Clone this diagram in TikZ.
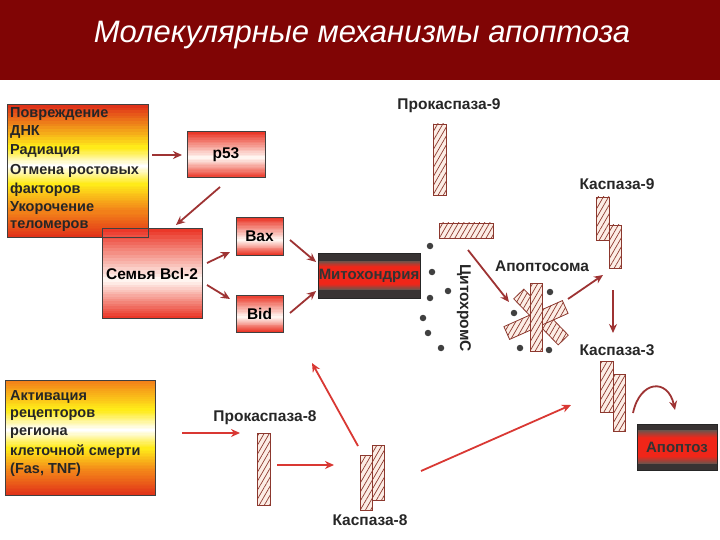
\documentclass[tikz,border=0pt]{standalone}
\usepackage{fontspec}
\setmainfont{Liberation Sans}
\usetikzlibrary{arrows.meta,patterns.meta}
\definecolor{arrc}{rgb}{0.62,0.2,0.2}
\definecolor{arrb}{rgb}{0.85,0.22,0.2}
\definecolor{hatfill}{rgb}{0.99,0.93,0.9}
\definecolor{hatline}{rgb}{0.55,0.22,0.18}
\definecolor{titlebg}{rgb}{0.5,0.02,0.02}
\definecolor{gRed}{rgb}{0.88,0.2,0.1}
\definecolor{gOra}{rgb}{0.95,0.5,0.1}
\definecolor{gYel}{rgb}{1,0.92,0.1}
\definecolor{gWhi}{rgb}{1,1,1}
\definecolor{bRed}{rgb}{0.92,0.22,0.16}
\definecolor{bWhi}{rgb}{1,0.96,0.94}
\definecolor{mDark}{rgb}{0.22,0.2,0.2}
\definecolor{mGray}{rgb}{0.42,0.33,0.3}
\definecolor{mRed}{rgb}{0.94,0.15,0.1}
\newcommand\gseg[6]{%
 \foreach \i in {0,...,15}{%
  \pgfmathtruncatemacro\pp{\i*100/15}%
  \pgfmathsetmacro\ya{#3+(#4-#3)*\i/16}%
  \pgfmathsetmacro\yb{#3+(#4-#3)*(\i+1)/16}%
  \fill[#6!\pp!#5] (#1,\ya) rectangle (#2,\yb);
 }}
\tikzset{
 txt/.style={font=\fontsize{15.5}{18}\selectfont\bfseries, text=black!85, inner sep=0pt},
 lbl/.style={txt, font=\fontsize{14.5}{18}\selectfont\bfseries, anchor=west},
 boxw/.style={draw=black!75, line width=1pt, inner sep=0pt},
 boxr/.style={draw=black!75, line width=1pt, inner sep=0pt, font=\fontsize{15.5}{18}\selectfont\bfseries},
 boxm/.style={draw=black!85, line width=1pt, inner sep=0pt, font=\fontsize{15}{18}\selectfont\bfseries, text=black!80},
 hat/.style={draw=hatline, line width=0.8pt, preaction={fill=hatfill}, pattern={Lines[angle=60,distance=4.5pt,line width=0.7pt]}, pattern color=hatline, inner sep=0pt},
 arr/.style={draw=arrc, line width=1.8pt, -{Stealth[length=9pt,width=8pt]}},
 arrB/.style={draw=arrb, line width=1.8pt, -{Stealth[length=9pt,width=8pt]}},
 dot/.style={circle, fill=black!75, inner sep=0pt, minimum size=6.5pt}
}
\begin{document}
\begin{tikzpicture}[x=1pt,y=1pt]
\useasboundingbox (0,0) rectangle (720,-540);
\fill[white] (0,0) rectangle (720,-540);
\fill[titlebg] (0,0) rectangle (720,-80);
\node[font=\fontsize{31}{36}\selectfont\itshape, text=white] (title) at (362,-35) {Молекулярные механизмы апоптоза};

% gradients
\gseg{7}{148}{-105}{-148}{gRed}{gYel}
\gseg{7}{148}{-148}{-166}{gYel}{gWhi}
\gseg{7}{148}{-166}{-184}{gWhi}{gYel}
\gseg{7}{148}{-184}{-212}{gYel}{gOra}
\gseg{7}{148}{-212}{-237}{gOra}{gRed}
\gseg{5}{155}{-380}{-410}{gOra}{gYel}
\gseg{5}{155}{-410}{-430}{gYel}{gWhi}
\gseg{5}{155}{-430}{-448}{gWhi}{gYel}
\gseg{5}{155}{-448}{-472}{gYel}{gOra}
\gseg{5}{155}{-472}{-495}{gOra}{gRed}
% red-white boxes
\gseg{187}{265}{-132}{-158}{bRed}{bWhi}
\gseg{187}{265}{-158}{-178}{bWhi}{bRed}
\gseg{102}{202}{-229}{-280}{bRed}{bWhi}
\gseg{102}{202}{-280}{-318}{bWhi}{bRed}
\gseg{236}{283}{-218}{-240}{bRed}{bWhi}
\gseg{236}{283}{-240}{-255}{bWhi}{bRed}
\gseg{236}{283}{-295}{-317}{bRed}{bWhi}
\gseg{236}{283}{-317}{-332}{bWhi}{bRed}
% mito / apoptoz
\fill[mDark] (318,-253) rectangle (420,-261);
\gseg{318}{420}{-261}{-267}{mGray}{mRed}
\fill[mRed] (318,-267) rectangle (420,-284);
\gseg{318}{420}{-284}{-290}{mRed}{mGray}
\fill[mDark] (318,-290) rectangle (420,-298);
\fill[mDark] (637,-424) rectangle (717,-430);
\gseg{637}{717}{-430}{-438}{mGray}{mRed}
\fill[mRed] (637,-438) rectangle (717,-456);
\gseg{637}{717}{-456}{-464}{mRed}{mGray}
\fill[mDark] (637,-464) rectangle (717,-470);

% box 1
\node[boxw, minimum width=141, minimum height=132] (b1) at (77.5,-171) {};
\node[lbl] (t1) at (10,-114) {Повреждение};
\node[lbl] (t2) at (10,-132) {ДНК};
\node[lbl] (t3) at (10,-151) {Радиация};
\node[lbl] (t4) at (10,-171) {Отмена ростовых};
\node[lbl] (t5) at (10,-190) {факторов};
\node[lbl] (t6) at (10,-208) {Укорочение};
\node[lbl] (t7) at (10,-226) {теломеров};

\node[boxr, minimum width=78, minimum height=46] (p53) at (226,-155) {p53};
\node[boxr, minimum width=100, minimum height=89] (bcl) at (152,-273.5) {Семья Bcl-2};
\node[boxr, minimum width=47, minimum height=37] (bax) at (259.5,-236.5) {Bax};
\node[boxr, minimum width=47, minimum height=37] (bid) at (259.5,-313.5) {Bid};
\node[boxm, minimum width=102, minimum height=45] (mito) at (369,-275.5) {Митохондрия};

\draw[arr] (152,-155) -- (182,-155);
\draw[arr] (220,-187) -- (176,-225);
\draw[arr] (207,-263) -- (230,-252);
\draw[arr] (207,-285) -- (230,-299);
\draw[arr] (290,-240) -- (316,-262);
\draw[arr] (290,-313) -- (316,-291);

% procaspase-9
\node[txt] (lp9) at (449,-106) {Прокаспаза-9};
\node[hat, minimum width=13, minimum height=71] (p9a) at (439.5,-159.5) {};
\node[hat, minimum width=54, minimum height=15] (p9b) at (466,-230.5) {};

% cytochrome
\node[dot] (c1) at (430,-246) {};
\node[dot] (c2) at (432,-272) {};
\node[dot] (c3) at (448,-291) {};
\node[dot] (c4) at (430,-298) {};
\node[dot] (c5) at (423,-318) {};
\node[dot] (c6) at (428,-333) {};
\node[dot] (c7) at (441,-348) {};
\node[txt, rotate=-90] (cyt) at (464,-308) {ЦитохромС};

\draw[arr] (468,-250) -- (509,-302);
\node[txt] (laps) at (542,-266) {Апоптосома};

% apoptosome
\node[hat, minimum width=64, minimum height=14, rotate=-46] (a2) at (541,-317) {};
\node[hat, minimum width=64, minimum height=14, rotate=24] (a3) at (536,-320) {};
\node[hat, minimum width=12, minimum height=68] (a1) at (536,-317) {};
\node[dot] (d1) at (550,-292) {};
\node[dot] (d2) at (514,-313) {};
\node[dot] (d3) at (520,-348) {};
\node[dot] (d4) at (549,-350) {};

\draw[arr] (568,-299) -- (603,-275);
\node[txt] (lc9) at (617,-184) {Каспаза-9};
\node[hat, minimum width=13, minimum height=43] (c9a) at (602.5,-218.5) {};
\node[hat, minimum width=12, minimum height=43] (c9b) at (615,-246.5) {};

\draw[arr] (613,-290) -- (613,-333);
\node[txt] (lc3) at (617,-350) {Каспаза-3};
\node[hat, minimum width=13, minimum height=51] (c3a) at (606.5,-386.5) {};
\node[hat, minimum width=12, minimum height=57] (c3b) at (619,-402.5) {};

\node[boxm, minimum width=80, minimum height=46, text=black!80] (apo) at (677,-447) {Апоптоз};
\coordinate (cs) at (633,-413);
\draw[arr] (cs) .. controls (640,-380) and (668,-378) .. (675,-410);

% box 2
\node[boxw, minimum width=150, minimum height=115] (b2) at (80,-437.5) {};
\node[lbl] (u1) at (10,-397) {Активация};
\node[lbl] (u2) at (10,-415) {рецепторов};
\node[lbl] (u3) at (10,-433) {региона};
\node[lbl] (u4) at (10,-452) {клеточной смерти};
\node[lbl] (u5) at (10,-470) {(Fas, TNF)};

\draw[arrB] (182,-433) -- (240,-433);
\node[txt] (lp8) at (265,-418) {Прокаспаза-8};
\node[hat, minimum width=13, minimum height=72] (p8) at (263.5,-469) {};
\draw[arrB] (277,-465) -- (334,-465);
\node[hat, minimum width=12, minimum height=55] (k8a) at (366,-482.5) {};
\node[hat, minimum width=12, minimum height=55] (k8b) at (378,-472.5) {};
\node[txt] (lk8) at (370,-520) {Каспаза-8};
\draw[arrB] (358,-446) -- (312,-363);
\draw[arrB] (421,-471) -- (571,-405);
\end{tikzpicture}
\end{document}
